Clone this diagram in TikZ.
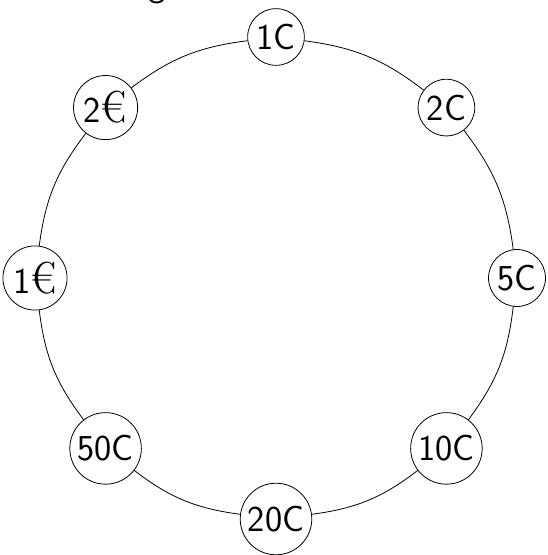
\documentclass[tikz,border=0pt]{standalone}
\newcommand{\eur}{{\rmfamily\fontsize{45}{45}\selectfont €}}
\usetikzlibrary{calc}
\begin{document}
\begin{tikzpicture}[x=1pt,y=1pt,
  coin/.style={circle,draw,line width=0.8pt,fill=white,inner sep=3.6pt,
    font=\sffamily\fontsize{36.5}{40}\selectfont},
  ring/.style={line width=0.8pt,bend left=15}]
\useasboundingbox (0,0) rectangle (547,555);
\def\R{241}
\coordinate (c) at (276,277);
\node[anchor=base west,inner sep=0pt,font=\sffamily\fontsize{36.5}{40}\selectfont] (title) at (148,558) {g};
\node[coin] (n1) at ($(c)+(90:\R)$) {1C};
\node[coin] (n2) at ($(c)+(45:\R)$) {2C};
\node[coin] (n3) at ($(c)+(0:\R)$) {5C};
\node[coin] (n4) at ($(c)+(-45:\R)$) {10C};
\node[coin] (n5) at ($(c)+(-90:\R)$) {20C};
\node[coin] (n6) at ($(c)+(-135:\R)$) {50C};
\node[coin] (n7) at ($(c)+(180:\R)$) {1\eur};
\node[coin] (n8) at ($(c)+(135:\R)$) {2\eur};
\draw[ring] (n1) to (n2);
\draw[ring] (n2) to (n3);
\draw[ring] (n3) to (n4);
\draw[ring] (n4) to (n5);
\draw[ring] (n5) to (n6);
\draw[ring] (n6) to (n7);
\draw[ring] (n7) to (n8);
\draw[ring] (n8) to (n1);
\end{tikzpicture}
\end{document}
